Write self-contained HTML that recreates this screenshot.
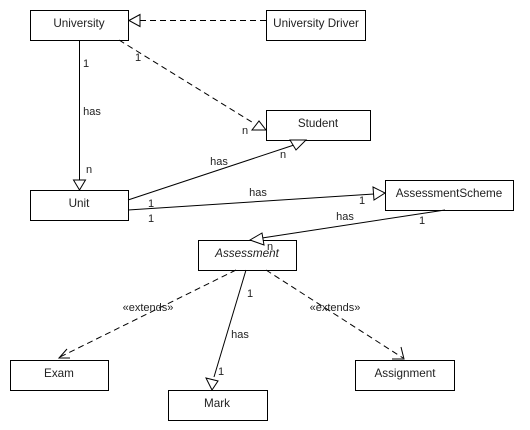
<!DOCTYPE html>
<html><head><style>
body{margin:0;background:#fff;}
svg{display:block;font-family:"Liberation Sans",Arial,sans-serif;font-size:11px;}
</style></head><body>
<svg width="530" height="430" viewBox="0 0 530 430">
<g fill="#fff" stroke="#000" stroke-width="1">
<rect x="30.5" y="10.5" width="98" height="30"/>
<rect x="266.5" y="10.5" width="99" height="30"/>
<rect x="266.5" y="110.5" width="104" height="30"/>
<rect x="30.5" y="190.5" width="98" height="30"/>
<rect x="385.5" y="180.5" width="128" height="30"/>
<rect x="198.5" y="240.5" width="98" height="30"/>
<rect x="10.5" y="360.5" width="98" height="30"/>
<rect x="168.5" y="390.5" width="99" height="30"/>
<rect x="355.5" y="360.5" width="99" height="30"/>
</g>
<g fill="#222" text-anchor="middle" font-size="11.7">
<text x="79" y="27">University</text>
<text x="316" y="27">University Driver</text>
<text x="318" y="127">Student</text>
<text x="79" y="207">Unit</text>
<text x="449" y="197">AssessmentScheme</text>
<text x="247" y="257" font-style="italic">Assessment</text>
<text x="59" y="377">Exam</text>
<text x="217" y="407">Mark</text>
<text x="405" y="377">Assignment</text>
</g>
<g stroke="#000" fill="none">
<line x1="266" y1="20.5" x2="140" y2="20.5" stroke-dasharray="6,4"/>
<line x1="119" y1="40" x2="255" y2="124" stroke-dasharray="6,4"/>
<line x1="79.5" y1="40" x2="79.5" y2="180"/>
<line x1="128" y1="200" x2="294" y2="145"/>
<line x1="128" y1="210" x2="374" y2="194"/>
<line x1="445" y1="210" x2="262" y2="238"/>
<line x1="236" y1="270" x2="60" y2="357" stroke-dasharray="6,4"/>
<line x1="246" y1="270" x2="214" y2="377"/>
<line x1="266" y1="270" x2="403" y2="358" stroke-dasharray="6,4"/>
</g>
<g stroke="#000" fill="#fff">
<polygon points="129,20.5 140,14.5 140,26.5"/>
<polygon points="266,130 252,130 259,121"/>
<polygon points="79.5,190 73.5,180 85.5,180"/>
<polygon points="306,140 290,140 296,150" />
<polygon points="385,193 373,187 374,200"/>
<polygon points="250,240 262,233 264,245"/>
<polygon points="212,390 206,378 218,381"/>
</g>
<g stroke="#000" fill="none">
<polyline points="67,349 59,358 70,358"/>
<polyline points="392,359 404,359 401,347"/>
</g>
<g fill="#222" text-anchor="middle">
<text x="138" y="61">1</text>
<text x="245" y="134">n</text>
<text x="86" y="67">1</text>
<text x="92" y="115">has</text>
<text x="89" y="173">n</text>
<text x="219" y="165">has</text>
<text x="283" y="158">n</text>
<text x="258" y="196">has</text>
<text x="151" y="207">1</text>
<text x="151" y="222">1</text>
<text x="362" y="204">1</text>
<text x="345" y="220">has</text>
<text x="422" y="224">1</text>
<text x="270" y="250">n</text>
<text x="148" y="311">«extends»</text>
<text x="335" y="311">«extends»</text>
<text x="250" y="297">1</text>
<text x="240" y="338">has</text>
<text x="221" y="375">1</text>
</g>
</svg>
</body></html>
